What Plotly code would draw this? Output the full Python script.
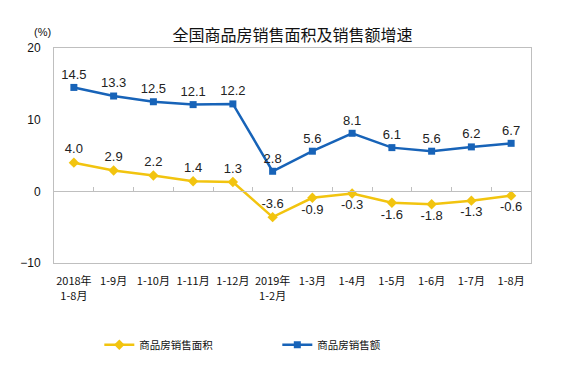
import plotly.graph_objects as go

categories = ["2018年<br>1-8月", "1-9月", "1-10月", "1-11月", "1-12月", "2019年<br>1-2月",
              "1-3月", "1-4月", "1-5月", "1-6月", "1-7月", "1-8月"]
area_growth = [4.0, 2.9, 2.2, 1.4, 1.3, -3.6, -0.9, -0.3, -1.6, -1.8, -1.3, -0.6]
sales_growth = [14.5, 13.3, 12.5, 12.1, 12.2, 2.8, 5.6, 8.1, 6.1, 5.6, 6.2, 6.7]
area_label_pos = ["top center"] * 6 + ["bottom center"] * 6

BLUE = "#1763B8"
YELLOW = "#F2C40F"
GRAY = "#BFBFBF"
NUM_FONT = "Liberation Sans, Arial, sans-serif"
CJK_FONT = "Noto Sans CJK SC, sans-serif"

W, H = 560, 369  # page body has an 8px margin

fig = go.Figure()
fig.add_trace(go.Scatter(
    x=categories, y=area_growth, name="商品房销售面积",
    mode="lines+markers+text",
    line=dict(color=YELLOW, width=2.5),
    marker=dict(symbol="diamond", size=8, color=YELLOW),
    text=[f"{v:.1f}" for v in area_growth], textposition=area_label_pos,
    textfont=dict(family=NUM_FONT, size=13, color="#222"),
    cliponaxis=False,
))
fig.add_trace(go.Scatter(
    x=categories, y=sales_growth, name="商品房销售额",
    mode="lines+markers+text",
    line=dict(color=BLUE, width=2.5),
    marker=dict(symbol="square", size=7, color=BLUE),
    text=[f"{v:.1f}" for v in sales_growth], textposition="top center",
    textfont=dict(family=NUM_FONT, size=13, color="#222"),
    cliponaxis=False,
))

n = len(categories)
fig.update_layout(
    width=W, height=H,
    margin=dict(l=44, r=37, t=40, b=114),
    paper_bgcolor="white", plot_bgcolor="white",
    title=dict(text="全国商品房销售面积及销售额增速", x=0.5, xref="paper",
               y=1 - 27 / H, yanchor="middle",
               font=dict(family=CJK_FONT, size=16, color="#111")),
    xaxis=dict(type="category", range=[-0.5, n - 0.5], showgrid=False,
               showline=True, linecolor=GRAY, mirror=True, ticks="",
               tickfont=dict(family=CJK_FONT, size=11, color="#111"),
               ticklabelstandoff=8, zeroline=False),
    xaxis2=dict(overlaying="x", anchor="free", position=1 / 3, range=[-0.5, n - 0.5],
                showline=True, linecolor=GRAY, linewidth=1, ticks="inside", ticklen=4,
                tickcolor=GRAY, tickvals=[k + 0.5 for k in range(n - 1)],
                showticklabels=False, showgrid=False, zeroline=False),
    yaxis=dict(range=[-10, 20], dtick=10, showgrid=False, zeroline=False,
               showline=True, linecolor=GRAY, mirror=True, ticks="",
               tickfont=dict(family=NUM_FONT, size=12, color="#111"),
               ticklabelstandoff=10),
    legend=dict(orientation="h", x=0.095, xanchor="left", y=-0.38, yanchor="middle",
                font=dict(family=CJK_FONT, size=10.5, color="#111"),
                entrywidth=133, entrywidthmode="pixels"),
    annotations=[dict(text="(%)", xref="paper", yref="paper", x=-0.046, y=1.112,
                      showarrow=False, font=dict(family=NUM_FONT, size=11, color="#111"))],
)
# invisible trace to activate the zero-line tick axis
fig.add_trace(go.Scatter(x=[0], y=[0], xaxis="x2", mode="markers",
                         marker=dict(opacity=0), showlegend=False, hoverinfo="skip"))

fig.write_html("out.html")
